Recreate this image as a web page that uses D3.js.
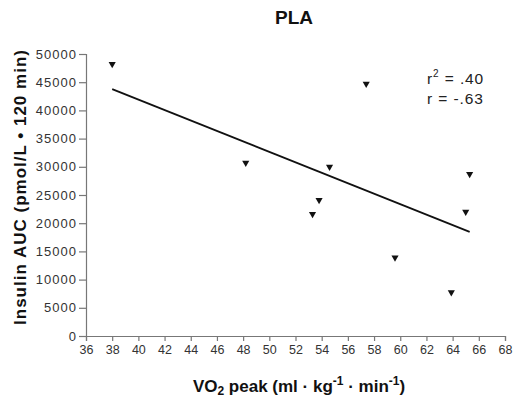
<!DOCTYPE html>
<html>
<head>
<meta charset="utf-8">
<script src="https://cdn.jsdelivr.net/npm/d3@7"></script>
<style>
  body { margin: 0; background: #fff; }
  text { font-family: "Liberation Sans", Arial, sans-serif; }
</style>
</head>
<body>
<svg id="chart" width="514" height="400"></svg>
<script>
// data
var vo2peak = [38.0, 48.2, 53.3, 53.8, 54.6, 57.4, 59.6, 63.9, 65.0, 65.3];
var insulinAUC = [48200, 30700, 21600, 24100, 30000, 44700, 13900, 7750, 22000, 28700];
var xTicks = d3.range(36, 69, 2);
var yTicks = d3.range(0, 50001, 5000);
var statValues = [".40", "-.63"];

var svg = d3.select("#chart");
var margin = { left: 86, right: 9, top: 54, bottom: 64 };
var width = 514, height = 400;

var x = d3.scaleLinear().domain([36, 68]).range([margin.left, width - margin.right]);
var y = d3.scaleLinear().domain([0, 50000]).range([height - margin.bottom, margin.top]);

// axes
var xAxis = svg.append("g")
  .attr("transform", "translate(0," + y(0) + ")")
  .call(d3.axisBottom(x).tickValues(xTicks).tickSize(5).tickPadding(4).tickFormat(d3.format("d")));
var yAxis = svg.append("g")
  .attr("transform", "translate(" + x(36) + ",0)")
  .call(d3.axisLeft(y).tickValues(yTicks).tickSize(7).tickPadding(2).tickFormat(d3.format("d")));

[xAxis, yAxis].forEach(function (a) {
  a.select(".domain").attr("stroke", "#777").attr("stroke-width", 1.2);
  a.selectAll(".tick line").attr("stroke", "#777").attr("stroke-width", 1.2);
  a.selectAll(".tick text").attr("fill", "#333").style("font-size", "12.5px")
    .style("font-family", "'Liberation Sans', Arial, sans-serif");
});
yAxis.selectAll(".tick text").style("font-size", "13px").style("letter-spacing", "1px");

// regression line computed from the points
var mx = d3.mean(vo2peak), my = d3.mean(insulinAUC);
var sxy = d3.sum(vo2peak, function (v, i) { return (v - mx) * (insulinAUC[i] - my); });
var sxx = d3.sum(vo2peak, function (v) { return (v - mx) * (v - mx); });
var slope = sxy / sxx, intercept = my - slope * mx;
var ext = d3.extent(vo2peak);

svg.append("line")
  .attr("x1", x(ext[0])).attr("y1", y(intercept + slope * ext[0]))
  .attr("x2", x(ext[1])).attr("y2", y(intercept + slope * ext[1]))
  .attr("stroke", "#111").attr("stroke-width", 1.8);

// points: downward triangles
var tri = d3.symbol().type(d3.symbolTriangle).size(22);
svg.selectAll(".pt")
  .data(vo2peak)
  .enter().append("path")
  .attr("class", "pt")
  .attr("d", tri)
  .attr("transform", function (d, i) { return "translate(" + x(d) + "," + y(insulinAUC[i]) + ") rotate(180)"; })
  .attr("fill", "#111");

// stats
var stats = svg.append("g").attr("fill", "#222").style("font-size", "15.5px").style("letter-spacing", "0.9px");
var t1 = stats.append("text").attr("x", 427).attr("y", 84);
t1.append("tspan").text("r");
t1.append("tspan").attr("dy", -7).style("font-size", "10px").text("2");
t1.append("tspan").attr("dy", 7).text(" = " + statValues[0]);
stats.append("text").attr("x", 427).attr("y", 104).text("r = " + statValues[1]);

// title
svg.append("text").attr("x", 294).attr("y", 24).attr("text-anchor", "middle")
  .style("font-size", "19px").style("font-weight", "bold").attr("fill", "#111").text("PLA");

// x axis title
var xt = svg.append("text").attr("x", 299).attr("y", 392).attr("text-anchor", "middle")
  .style("font-size", "17px").style("font-weight", "bold").attr("fill", "#111");
xt.append("tspan").text("VO");
xt.append("tspan").attr("dy", 3).style("font-size", "12px").text("2");
xt.append("tspan").attr("dy", -3).text(" peak (ml \u00B7 kg");
xt.append("tspan").attr("dy", -7).style("font-size", "12px").text("-1");
xt.append("tspan").attr("dy", 7).text(" \u00B7 min");
xt.append("tspan").attr("dy", -7).style("font-size", "12px").text("-1");
xt.append("tspan").attr("dy", 7).text(")");

// y axis title
svg.append("text").attr("transform", "translate(26,187) rotate(-90)").attr("text-anchor", "middle")
  .style("font-size", "17px").style("font-weight", "bold").style("letter-spacing", "1px").attr("fill", "#111")
  .text("Insulin AUC (pmol/L \u2022 120 min)");
</script>
</body>
</html>
